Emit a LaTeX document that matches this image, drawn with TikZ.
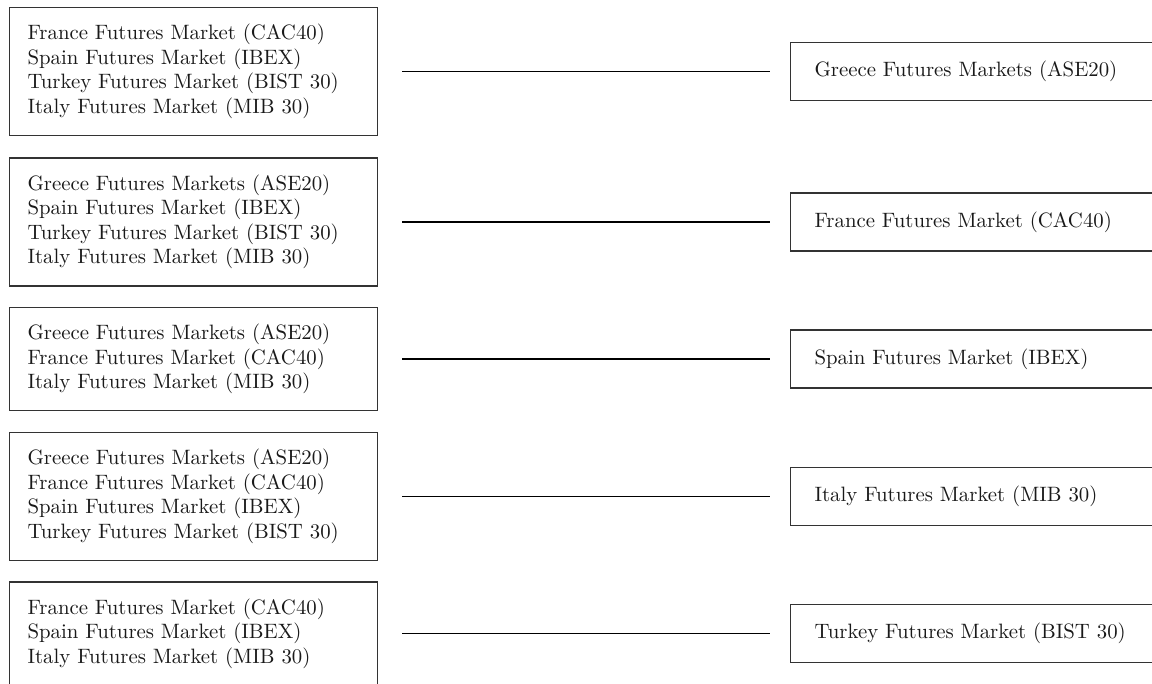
\documentclass[tikz,border=0pt]{standalone}
\begin{document}
\begin{tikzpicture}[x=0.5pt,y=-0.5pt]

    \tikzset{
      source/.style={
        draw=black!80,
        line width=0.6pt,
        anchor=west,
        inner xsep=9pt,
        text width=166pt,
        align=left,
        text=black!90,
        font=\fontsize{10.4}{12.25}\selectfont,
      },
      target/.style={
        source,
        inner xsep=12pt,
        text width=176pt,
        minimum height=29pt,
      },
      link/.style={
        line width=0.8pt,
        shorten <=12pt,
        shorten >=10pt,
      },
    }
    \useasboundingbox (0,0) rectangle (1152,684);
    \clip (0,0) rectangle (1152,684);

	\node[source,minimum height=64pt] (src1) at (9,71.5) {France Futures Market (CAC40)\\Spain Futures Market (IBEX)\\Turkey Futures Market (BIST 30)\\Italy Futures Market (MIB 30)};
	\node[source,minimum height=64pt] (src2) at (9,222) {Greece Futures Markets (ASE20)\\Spain Futures Market (IBEX)\\Turkey Futures Market (BIST 30)\\Italy Futures Market (MIB 30)};
	\node[source,minimum height=51.5pt] (src3) at (9,359) {Greece Futures Markets (ASE20)\\France Futures Market (CAC40)\\Italy Futures Market (MIB 30)};
	\node[source,minimum height=64pt] (src4) at (9,496.5) {Greece Futures Markets (ASE20)\\France Futures Market (CAC40)\\Spain Futures Market (IBEX)\\Turkey Futures Market (BIST 30)};
	\node[source,minimum height=51.5pt] (src5) at (9,633.5) {France Futures Market (CAC40)\\Spain Futures Market (IBEX)\\Italy Futures Market (MIB 30)};

	\node[target] (tgt1) at (790,71.5) {Greece Futures Markets (ASE20)};
	\node[target] (tgt2) at (790,222) {France Futures Market (CAC40)};
	\node[target] (tgt3) at (790,359) {Spain Futures Market (IBEX)};
	\node[target] (tgt4) at (790,496.5) {Italy Futures Market (MIB 30)};
	\node[target] (tgt5) at (790,633.5) {Turkey Futures Market (BIST 30)};

	\draw[link] (src1.east) -- (tgt1.west);
	\draw[link] (src2.east) -- (tgt2.west);
	\draw[link] (src3.east) -- (tgt3.west);
	\draw[link] (src4.east) -- (tgt4.west);
	\draw[link] (src5.east) -- (tgt5.west);

\end{tikzpicture}
\end{document}
